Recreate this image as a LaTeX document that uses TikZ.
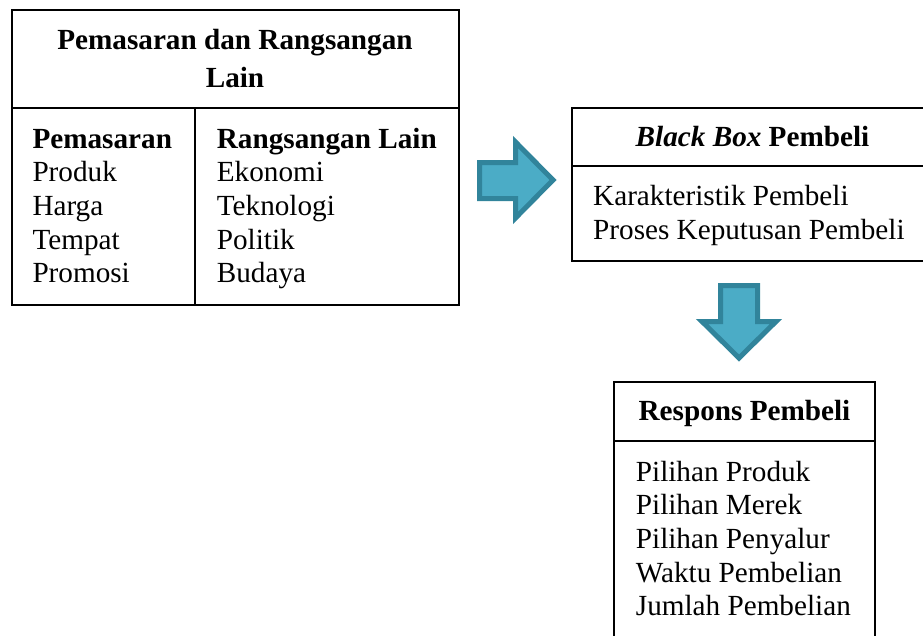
\documentclass[tikz,border=0pt]{standalone}
\usepackage{fontspec}
\setmainfont{Liberation Serif}
\definecolor{afill}{HTML}{4BACC6}
\definecolor{aline}{HTML}{31849B}
\begin{document}
\begin{tikzpicture}[x=1pt,y=-1pt,
  txt/.style={anchor=base west,inner sep=0pt,font=\fontsize{29.2}{33.7}\selectfont},
  ttl/.style={anchor=base,inner sep=0pt,font=\fontsize{29.2}{33.7}\selectfont\bfseries},
  boxline/.style={line width=2pt,black},
  bigarrow/.style={fill=afill,draw=aline,line width=5pt,line join=miter}]
\useasboundingbox (0,0) rectangle (923,635);
\clip (0,0) rectangle (923,635);
% left box
\node (lbox) [draw,boxline,anchor=north west,minimum width=447pt,minimum height=295pt,inner sep=0pt] at (11,9) {};
\coordinate (lsepL) at (11,108);
\coordinate (lsepR) at (458,108);
\coordinate (lmidT) at (195,108);
\coordinate (lmidB) at (195,304);
\draw[boxline] (lsepL) -- (lsepR);
\draw[boxline] (lmidT) -- (lmidB);
\node (t1a) [ttl] at (235,49) {Pemasaran dan Rangsangan};
\node (t1b) [ttl] at (235,87) {Lain};
\node (h1) [txt,font=\fontsize{29.2}{33.7}\selectfont\bfseries] at (32.3,148) {Pemasaran};
\node (h2) [txt,font=\fontsize{29.2}{33.7}\selectfont\bfseries] at (216.7,148) {Rangsangan Lain};
\foreach \t [count=\i from 0] in {Produk,Harga,Tempat,Promosi}
  \node (pa\i) [txt] at (32.3,181.7+33.7*\i) {\t};
\foreach \t [count=\i from 0] in {Ekonomi,Teknologi,Politik,Budaya}
  \node (rl\i) [txt] at (216.7,181.7+33.7*\i) {\t};
% black box
\coordinate (bTL) at (571.7,107.7);
\coordinate (bTR) at (940,107.7);
\coordinate (bBL) at (571.7,260.7);
\coordinate (bBR) at (940,260.7);
\coordinate (bSL) at (571.7,165.7);
\coordinate (bSR) at (940,165.7);
\draw[boxline] (bTR) -- (bTL) -- (bBL) -- (bBR);
\draw[boxline] (bSL) -- (bSR);
\node (bt) [ttl] at (752.5,146.7) {\textit{Black Box} Pembeli};
\node (b1) [txt] at (593,205) {Karakteristik Pembeli};
\node (b2) [txt] at (593,239) {Proses Keputusan Pembeli};
% respons box
\coordinate (rBL) at (614,650);
\coordinate (rTL) at (614,382.3);
\coordinate (rTR) at (875,382.3);
\coordinate (rBR) at (875,650);
\coordinate (rSL) at (614,441);
\coordinate (rSR) at (875,441);
\draw[boxline] (rBL) -- (rTL) -- (rTR) -- (rBR);
\draw[boxline] (rSL) -- (rSR);
\node (rt) [ttl] at (744.5,420) {Respons Pembeli};
\foreach \t [count=\i from 0] in {Pilihan Produk,Pilihan Merek,Pilihan Penyalur,Waktu Pembelian,Jumlah Pembelian}
  \node (rp\i) [txt] at (635.7,481+33.7*\i) {\t};
% arrows
\draw[bigarrow] (479.5,162.5) -- (515.5,162.5) -- (515.5,142) -- (553,180) -- (515.5,218) -- (515.5,198.5) -- (479.5,198.5) -- cycle;
\draw[bigarrow] (720.5,285.5) -- (757.5,285.5) -- (757.5,321.5) -- (776,321.5) -- (739,358) -- (702,321.5) -- (720.5,321.5) -- cycle;
\end{tikzpicture}
\end{document}
